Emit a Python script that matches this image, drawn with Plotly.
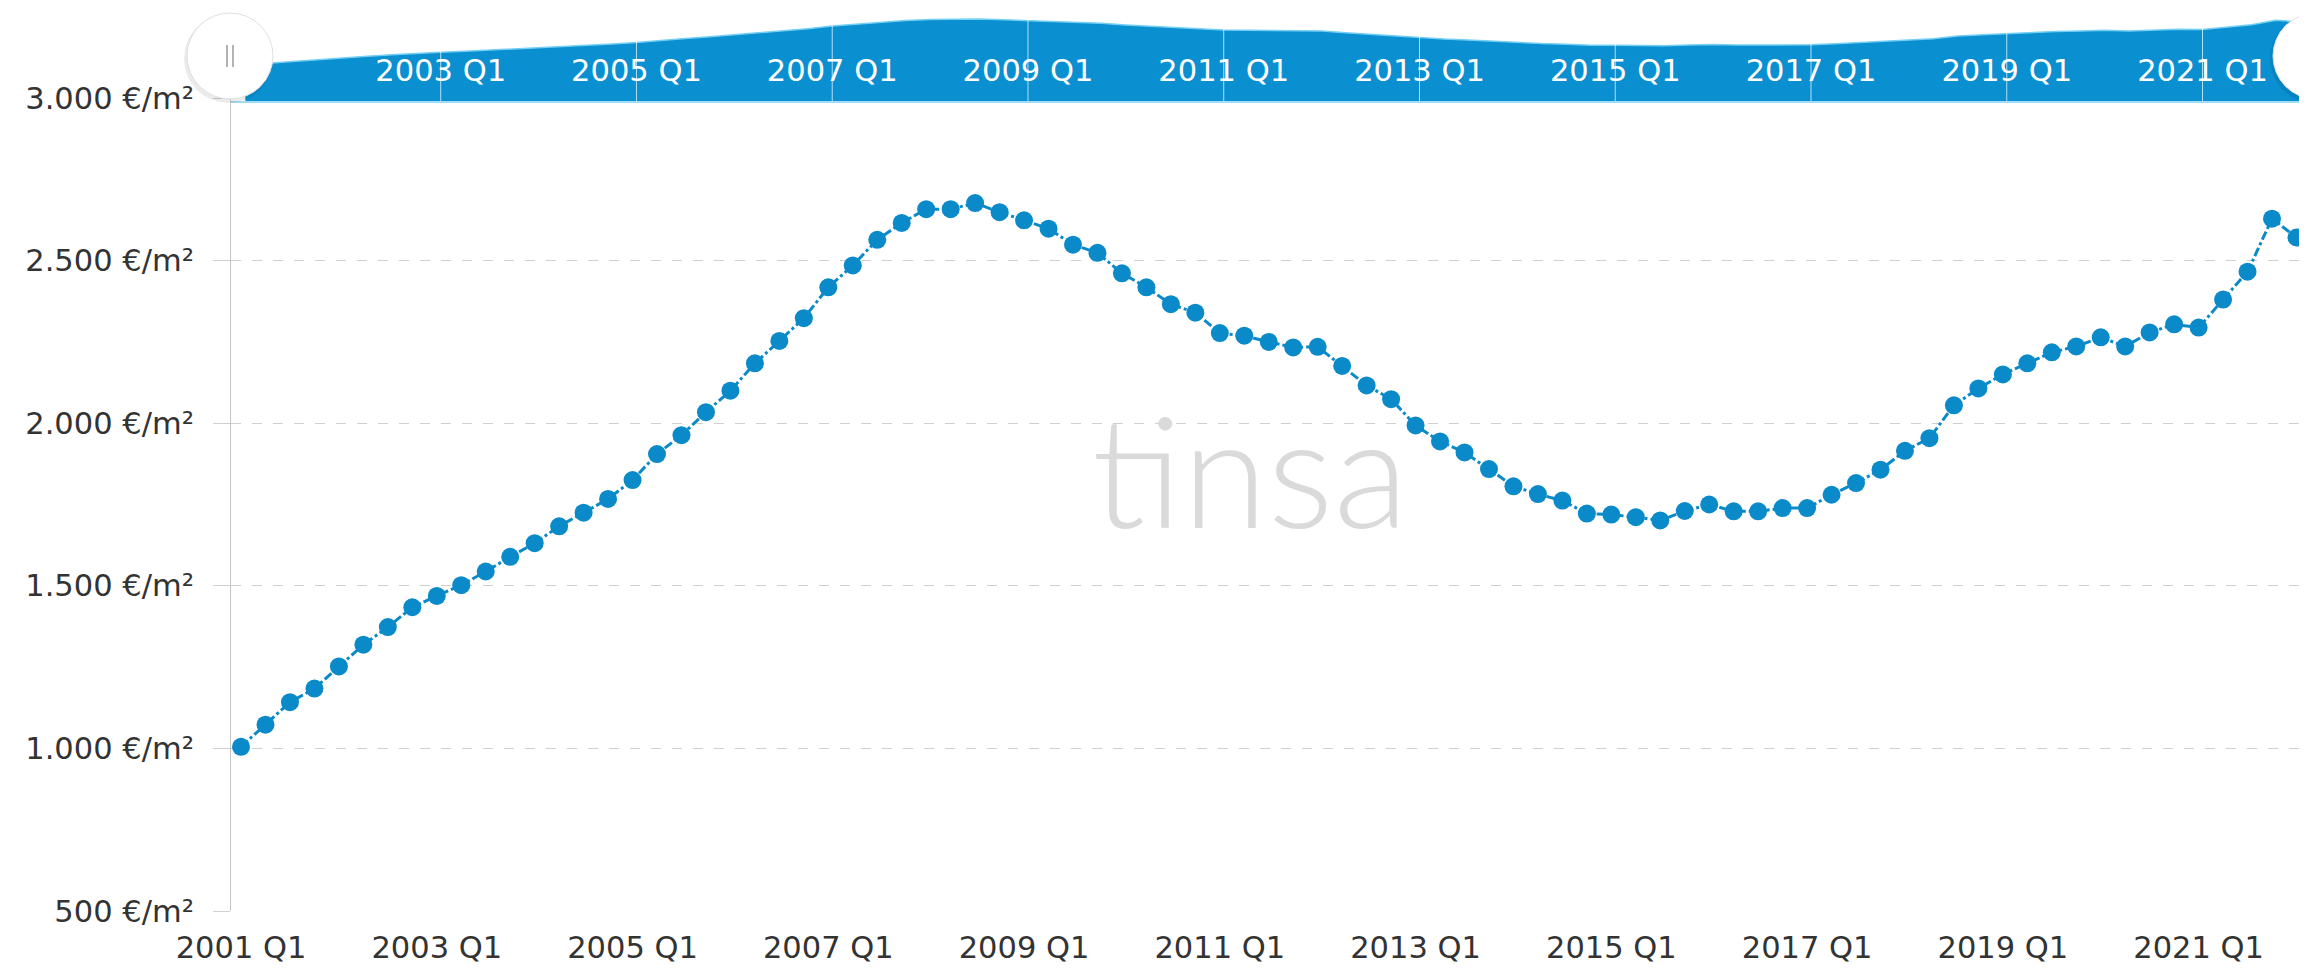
import plotly.graph_objects as go

# ---------------- data ----------------
years = list(range(2001, 2023))
quarters = [f"{y} Q{q}" for y in years for q in (1, 2, 3, 4)][:85]

values = [
    1005, 1073, 1142, 1184, 1252, 1319, 1373, 1434, 1469, 1502,
    1544, 1589, 1631, 1683, 1725, 1767, 1825, 1905, 1963, 2034,
    2100, 2184, 2253, 2323, 2418, 2485, 2564, 2616, 2658, 2658,
    2677, 2649, 2624, 2598, 2549, 2524, 2461, 2418, 2366, 2340,
    2277, 2269, 2250, 2233, 2235, 2176, 2116, 2074, 1993, 1944,
    1910, 1859, 1806, 1782, 1762, 1722, 1719, 1711, 1701, 1730,
    1750, 1729, 1729, 1739, 1739, 1780, 1816, 1857, 1915, 1954,
    2055, 2107, 2150, 2184, 2218, 2236, 2264, 2236, 2279, 2304,
    2294, 2380, 2466, 2629, 2571,
]

tick_labels = ["2001 Q1", "2003 Q1", "2005 Q1", "2007 Q1", "2009 Q1", "2011 Q1",
               "2013 Q1", "2015 Q1", "2017 Q1", "2019 Q1", "2021 Q1"]
y_ticks = [500, 1000, 1500, 2000, 2500, 3000]
y_tick_text = [f"{v:,}".replace(",", ".") + " €/m²" for v in y_ticks]
watermark = "tinsa"

# ---------------- style ----------------
BLUE = "#0a8ac9"
NAV_BLUE = "#0a8fd1"
FONT = "DejaVu Sans"
FS = 30.5
TXT = "#333333"
W, H = 2307, 970
OFF = 8  # browser body margin
# page-pixel layout targets
PAGE_LEFT, PAGE_RIGHT = 231, 2307
PAGE_MAIN_TOP, PAGE_BOTTOM = 98, 911
PAGE_NAV_TOP, PAGE_NAV_BOTTOM = 15, 102

L = PAGE_LEFT - OFF
R = W - (PAGE_RIGHT - OFF)
T = PAGE_NAV_TOP - OFF
B = H - (PAGE_BOTTOM - OFF)
PLOT_W = W - L - R
PLOT_H = H - T - B
main_dom_top = ((PAGE_BOTTOM - OFF) - (PAGE_MAIN_TOP - OFF)) / PLOT_H
nav_dom_bottom = ((PAGE_BOTTOM - OFF) - (PAGE_NAV_BOTTOM - OFF)) / PLOT_H
NAV_MIN, NAV_MAX = -340, 2820
X_RANGE = [-0.41, 84.43]
NAV_SHIFT = -0.16

fig = go.Figure()

# navigator baseline + area
fig.add_trace(go.Scatter(
    x=quarters, y=[NAV_MIN] * len(quarters), xaxis="x2", yaxis="y2",
    mode="lines", line=dict(width=0, color=NAV_BLUE), hoverinfo="skip", showlegend=False))
fig.add_trace(go.Scatter(
    x=quarters, y=values, xaxis="x2", yaxis="y2", mode="lines",
    fill="tonexty", fillcolor=NAV_BLUE, line=dict(color="#74cff3", width=1.5),
    hoverinfo="skip", showlegend=False))

# main series
fig.add_trace(go.Scatter(
    x=quarters, y=values, mode="lines+markers",
    line=dict(color=BLUE, width=3, dash="dashdot"),
    marker=dict(size=18, color=BLUE),
    cliponaxis=False, showlegend=False))

shapes = []
# navigator background
shapes.append(dict(type="rect", xref="x2 domain", yref="y2 domain", x0=0, x1=1, y0=0, y1=1,
                   fillcolor="#e9e9e9", line=dict(width=0), layer="below"))
# navigator white separators
for lab in tick_labels:
    shapes.append(dict(type="line", xref="x2", yref="y2 domain", x0=lab, x1=lab, y0=0, y1=1,
                       line=dict(color="rgba(255,255,255,0.7)", width=1), layer="above"))
# navigator bottom outline
shapes.append(dict(type="line", xref="x2 domain", yref="y2 domain", x0=0, x1=1, y0=0, y1=0,
                   line=dict(color="#9fdcf6", width=2), layer="above"))


def handle(page_x, page_y=56):
    xa = (page_x - PAGE_LEFT) / PLOT_W
    ya = (PAGE_BOTTOM - page_y) / PLOT_H
    out = [
        dict(type="circle", xref="paper", yref="paper", xsizemode="pixel", ysizemode="pixel",
             xanchor=xa, yanchor=ya, x0=-46, x1=43, y0=-47, y1=42,
             fillcolor="rgba(0,0,0,0.08)", line=dict(width=0), layer="above"),
        dict(type="circle", xref="paper", yref="paper", xsizemode="pixel", ysizemode="pixel",
             xanchor=xa, yanchor=ya, x0=-43, x1=43, y0=-43, y1=43,
             fillcolor="white", line=dict(color="#e0e0e0", width=1), layer="above"),
    ]
    for dx in (-3, 3):
        out.append(dict(type="line", xref="paper", yref="paper", xsizemode="pixel", ysizemode="pixel",
                        xanchor=xa, yanchor=ya, x0=dx, x1=dx, y0=-11, y1=11,
                        line=dict(color="#9a9a9a", width=1.5), layer="above"))
    return out


shapes += handle(230)
shapes += handle(2316)

fig.update_layout(
    width=W, height=H,
    margin=dict(l=L, r=R, t=T, b=B, pad=0, autoexpand=False),
    paper_bgcolor="white", plot_bgcolor="white",
    showlegend=False,
    xaxis=dict(
        type="category", range=X_RANGE, anchor="y",
        tickmode="array", tickvals=tick_labels, ticktext=tick_labels,
        showgrid=False, showline=False, zeroline=False, ticks="",
        tickfont=dict(family=FONT, size=FS, color=TXT), ticklabelstandoff=15,
        automargin=False,
    ),
    yaxis=dict(
        domain=[0, main_dom_top], range=[500, 3000], anchor="x",
        tickmode="array", tickvals=y_ticks, ticktext=y_tick_text,
        showgrid=True, gridcolor="#d0d0d0", gridwidth=1, griddash="10px,11px",
        showline=True, linecolor="#c4c4c4", linewidth=1,
        ticks="outside", ticklen=17, tickcolor="#d0d0d0", zeroline=False,
        tickfont=dict(family=FONT, size=FS, color=TXT), ticklabelstandoff=13,
        automargin=False,
    ),
    xaxis2=dict(
        type="category", range=[X_RANGE[0] + NAV_SHIFT, X_RANGE[1] + NAV_SHIFT], anchor="y2",
        tickmode="array", tickvals=tick_labels, ticktext=tick_labels,
        ticklabelposition="inside", ticks="", showgrid=False, showline=False, zeroline=False,
        tickfont=dict(family=FONT, size=FS, color="white"), ticklabelstandoff=12,
        layer="above traces", automargin=False,
    ),
    yaxis2=dict(
        domain=[nav_dom_bottom, 1], range=[NAV_MIN, NAV_MAX], anchor="x2",
        visible=False, showgrid=False, zeroline=False,
    ),
    shapes=shapes,
    annotations=[dict(
        text=watermark, xref="x domain", yref="y domain", x=0.491, y=0.545,
        showarrow=False, font=dict(family="Lato", size=155, color="#dadada", weight=300),
    )],
)

fig.write_html("out.html")
